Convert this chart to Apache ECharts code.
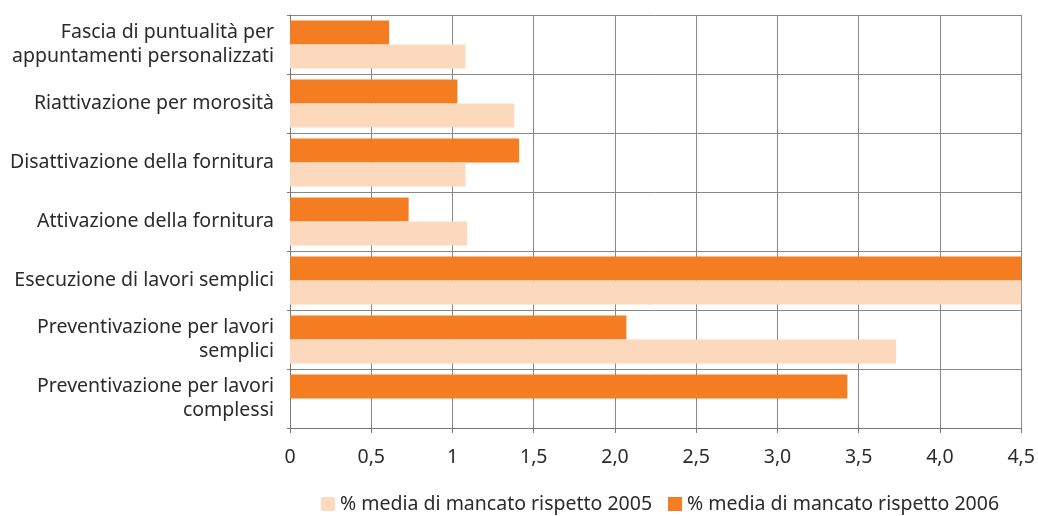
<!DOCTYPE html>
<html>
<head>
<meta charset="utf-8">
<script src="https://cdn.jsdelivr.net/npm/echarts@6/dist/echarts.min.js"></script>
<style>
  html, body { margin: 0; padding: 0; background: #fff; }
  #chart { width: 1038px; height: 516px; }
</style>
</head>
<body>
<div id="chart"></div>
<script>
// categorie dall'alto in basso
var categories = [
  "Fascia di puntualità per\nappuntamenti personalizzati",
  "Riattivazione per morosità",
  "Disattivazione della fornitura",
  "Attivazione della fornitura",
  "Esecuzione di lavori semplici",
  "Preventivazione per lavori\nsemplici",
  "Preventivazione per lavori\ncomplessi"
];
var values2005 = [1.08, 1.38, 1.08, 1.09, 4.6, 3.73, null];
var values2006 = [0.61, 1.03, 1.41, 0.73, 4.6, 2.07, 3.43];
var tickLabels = ["0", "0,5", "1", "1,5", "2,0", "2,5", "3,0", "3,5", "4,0", "4,5"];

var name2005 = "% media di mancato rispetto 2005";
var name2006 = "% media di mancato rispetto 2006";

var chart = echarts.init(document.getElementById("chart"));
var font = "'Noto Sans', sans-serif";

var option = {
  animation: false,
  textStyle: { fontFamily: font, color: "#2b2b2b" },
  grid: { left: 290, right: 16, top: 15, bottom: 88 },
  legend: {
    data: [name2005, name2006],
    left: 316,
    bottom: -3,
    itemWidth: 14,
    itemHeight: 14,
    itemGap: 16,
    icon: "rect",
    textStyle: { fontSize: 19.5, color: "#2b2b2b", fontFamily: font }
  },
  xAxis: {
    type: "value",
    min: 0,
    max: 4.5,
    interval: 0.5,
    axisLine: { show: true, lineStyle: { color: "#777" } },
    axisTick: { show: true, length: 5, lineStyle: { color: "#777" } },
    splitLine: { show: true, lineStyle: { color: "#888", width: 1 } },
    axisLabel: {
      fontSize: 19.5,
      color: "#2b2b2b",
      margin: 19,
      formatter: function (v) {
        return tickLabels[Math.round(v / 0.5)];
      }
    }
  },
  yAxis: {
    type: "category",
    inverse: true,
    data: categories,
    axisLine: { show: true, lineStyle: { color: "#777" } },
    axisTick: { show: true, length: 3, lineStyle: { color: "#777" } },
    splitLine: { show: true, lineStyle: { color: "#888", width: 1 } },
    axisLabel: {
      fontSize: 19.5,
      color: "#2b2b2b",
      margin: 16,
      lineHeight: 24,
      align: "right"
    }
  },
  series: [
    {
      name: name2006,
      type: "bar",
      data: values2006,
      clip: true,
      barGap: "0%",
      barCategoryGap: "19%",
      itemStyle: { color: "#F47C21" }
    },
    {
      name: name2005,
      type: "bar",
      data: values2005,
      clip: true,
      barGap: "0%",
      barCategoryGap: "19%",
      itemStyle: { color: "#FCD9BD" }
    }
  ]
};

chart.setOption(option);
</script>
</body>
</html>
